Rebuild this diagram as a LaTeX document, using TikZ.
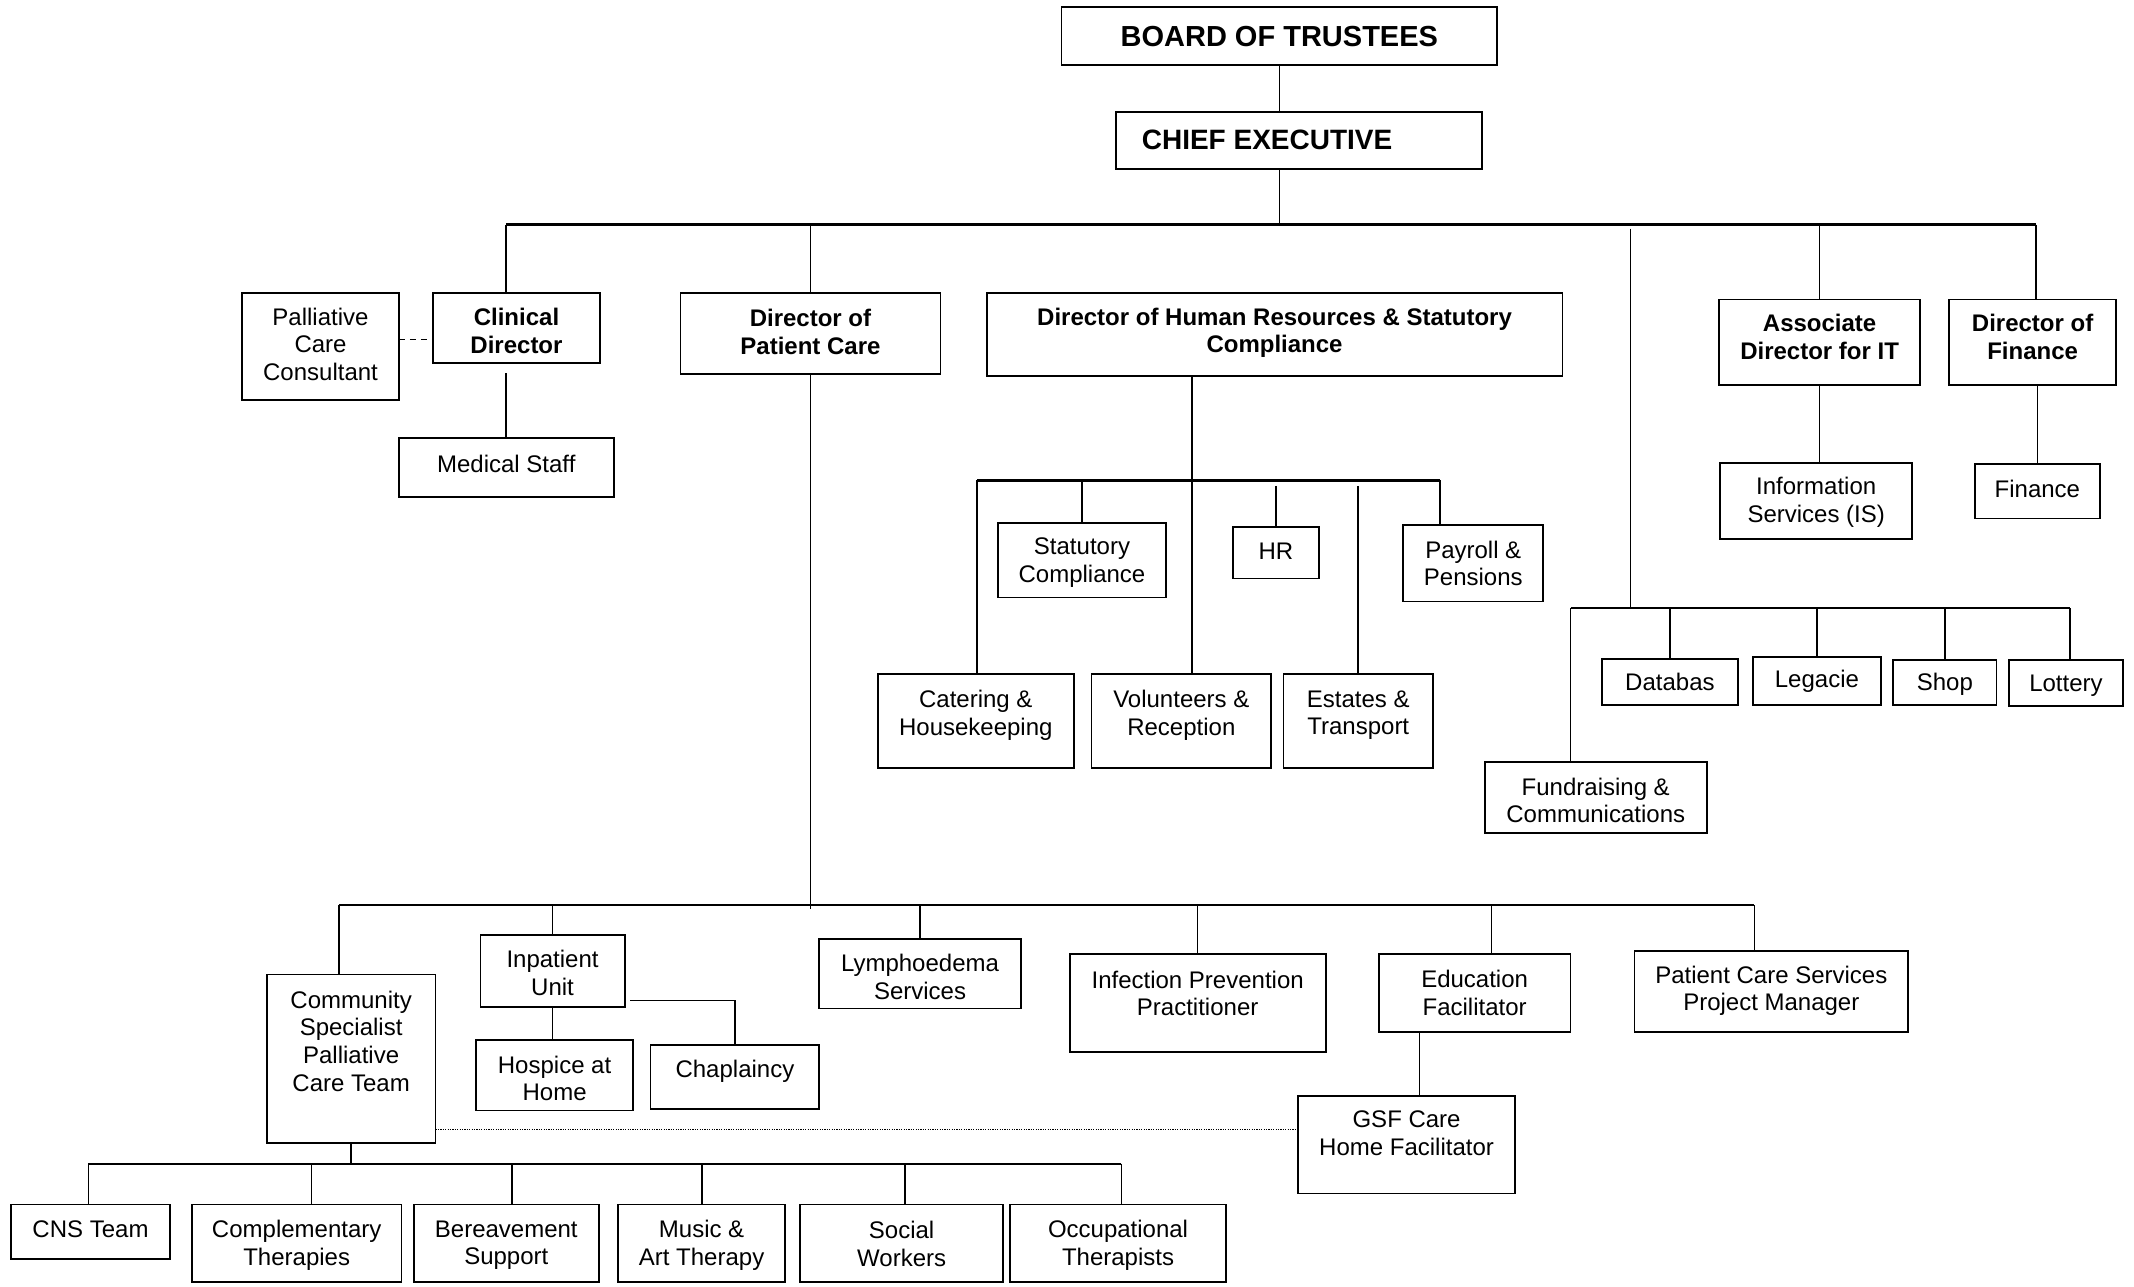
\documentclass[tikz,border=0pt]{standalone}
\usepackage{fontspec}
\setmainfont{Liberation Sans}
\usetikzlibrary{calc}
\tikzset{
  boxshape/.style={draw, line width=0.9pt, rectangle, inner sep=0pt, outer sep=0pt},
  boxtext/.style={align=center, font=\fontsize{12}{13.8}\selectfont, inner sep=0pt},
  boldtxt/.style={font=\fontsize{12}{13.8}\selectfont\bfseries},
  bigtxt/.style={font=\fontsize{14.5}{16}\selectfont\bfseries},
  conn/.style={line width=0.8pt},
  barline/.style={line width=1.1pt},
  dashlink/.style={line width=0.9pt, dash pattern=on 3pt off 2.5pt},
  dotlink/.style={line width=0.8pt, dash pattern=on 0.6pt off 0.6pt},
}
\newcommand\orgbox[8][]{%
  \node[boxshape, minimum width={(#5-#3)*0.6805pt}, minimum height={(#6-#4)*0.6805pt}] (#2) at ({(#3+#5)/2},{(#4+#6)/2}) {};
  \node[boxtext,#1] (#2-txt) at ($(#2.center)+(0,#7)$) {#8};
}
\begin{document}
\begin{tikzpicture}[x=0.6805pt,y=-0.6805pt]
\useasboundingbox (0,0) rectangle (1568,945);

% ---------- boxes ----------
\orgbox[bigtxt]{board}{780}{5}{1100}{48}{0}{BOARD OF TRUSTEES}
\orgbox[bigtxt,font=\fontsize{14}{16}\selectfont\bfseries,xshift=-16pt]{ce}{820}{82}{1089}{124}{0}{CHIEF EXECUTIVE}

\orgbox{pcc}{178}{215}{293}{294}{-1.5}{Palliative\\Care\\Consultant}
\orgbox[boldtxt]{cd}{318}{215}{441}{267}{2}{Clinical\\Director}
\orgbox{ms}{293}{322}{451}{365}{-2.5}{Medical Staff}
\orgbox[boldtxt]{dpc}{500}{215}{691}{275}{-1}{Director of\\Patient Care}
\orgbox[boldtxt]{dhr}{725}{215}{1148}{276}{-1}{Director of Human Resources \& Statutory\\Compliance}

\orgbox{sc}{733}{384}{857}{439}{2}{Statutory\\Compliance}
\orgbox{hr}{906}{387}{969}{425}{-1}{HR}
\orgbox{pp}{1031}{386}{1134}{442}{0}{Payroll \&\\Pensions}
\orgbox{ch}{645}{495}{789}{564}{-4}{Catering \&\\Housekeeping}
\orgbox{vr}{802}{495}{934}{564}{-4}{Volunteers \&\\Reception}
\orgbox{et}{943}{495}{1053}{564}{-4}{Estates \&\\Transport}

\orgbox{db}{1177}{484}{1277}{518}{0}{Databas}
\orgbox{lg}{1288}{483}{1382}{518}{0}{Legacie}
\orgbox{sh}{1391}{485}{1467}{518}{1.5}{Shop}
\orgbox{lt}{1476}{485}{1560}{519}{1.5}{Lottery}
\orgbox{fc}{1091}{560}{1254}{612}{2}{Fundraising \&\\Communications}

\orgbox[boldtxt]{adit}{1263}{220}{1411}{283}{-4}{Associate\\Director for IT}
\orgbox[boldtxt]{dof}{1432}{220}{1555}{283}{-4}{Director of\\Finance}
\orgbox{is}{1264}{340}{1405}{396}{1}{Information\\Services (IS)}
\orgbox{fin}{1451}{341}{1543}{381}{-2}{Finance}

\orgbox{cspct}{196}{716}{320}{840}{-13}{Community\\Specialist\\Palliative\\Care Team}
\orgbox{ipu}{353}{687}{459}{740}{1.5}{Inpatient\\Unit}
\orgbox{hah}{350}{764}{465}{816}{2.5}{Hospice at\\Home}
\orgbox{chap}{478}{768}{602}{815}{-4}{Chaplaincy}
\orgbox{lymph}{602}{690}{750}{741}{2.5}{Lymphoedema\\Services}
\orgbox{ipp}{786}{701}{974}{773}{-7}{Infection Prevention\\Practitioner}
\orgbox{ef}{1013}{701}{1154}{758}{0}{Education\\Facilitator}
\orgbox{gsf}{954}{805}{1113}{877}{-8.5}{GSF Care\\Home Facilitator}
\orgbox{pcs}{1201}{699}{1402}{758}{-0.5}{Patient Care Services\\Project Manager}

\orgbox{cns}{8}{885}{125}{925}{-2}{CNS Team}
\orgbox{ct}{141}{885}{295}{942}{1.5}{Complementary\\Therapies}
\orgbox{bs}{304}{885}{440}{942}{1.5}{Bereavement\\Support}
\orgbox{mat}{454}{885}{577}{942}{1.5}{Music \&\\Art Therapy}
\orgbox{sw}{588}{885}{737}{942}{0.5}{Social\\Workers}
\orgbox{ot}{742}{885}{901}{942}{1.5}{Occupational\\Therapists}

% ---------- bar coordinates ----------
\coordinate (b1l) at (372,165);
\coordinate (b1r) at (1496,165);
\coordinate (b1f) at (1198,168);
\coordinate (hbl) at (718,353);
\coordinate (hbr) at (1058,353);
\coordinate (hj) at (876,353);
\coordinate (fbl) at (1154,447);
\coordinate (fbr) at (1521,447);
\coordinate (lbl) at (249,665);
\coordinate (lbr) at (1289,665);
\coordinate (lef) at (1096,665);
\coordinate (gj) at (1043,758);
\coordinate (bbl) at (65,855);
\coordinate (bbr) at (824,855);
\coordinate (bct) at (229,855);
\coordinate (bbs) at (376,855);
\coordinate (bmat) at (516,855);
\coordinate (bsw) at (665,855);

% ---------- top ----------
\draw[conn] (board.south) -- (board.south |- ce.north);
\draw[conn] (board.south |- ce.south) -- (board.south |- b1l);
\draw[barline] (b1l) -- (b1r);
\draw[conn] (b1l) -- (b1l |- cd.north);
\draw[conn] (dpc.north |- b1l) -- (dpc.north);
\draw[conn] (b1f) -- (b1f |- fbl);
\draw[conn] (adit.north |- b1l) -- (adit.north);
\draw[conn] (b1r) -- (b1r |- dof.north);

% ---------- clinical ----------
\draw[dashlink] ($(pcc.east)+(0,-5)$) -- ($(pcc.east -| cd.west)+(0,-5)$);
\draw[conn] (ms.north) -- ($(cd.south -| ms.north)+(0,7)$);

% ---------- HR ----------
\draw[conn] (hj |- dhr.south) -- (hj |- vr.north);
\draw[barline] (hbl) -- (hbr);
\draw[conn] (hbl) -- (hbl |- ch.north);
\draw[conn] (sc.north |- hbl) -- (sc.north);
\draw[conn] ($(hr.north |- hbl)+(0,4)$) -- (hr.north);
\draw[conn] ($(et.north |- hbl)+(0,4)$) -- (et.north);
\draw[conn] (hbr) -- (hbr |- pp.north);

% ---------- fundraising ----------
\draw[barline] (fbl) -- (fbr);
\draw[conn] (fbl) -- (fbl |- fc.north);
\draw[conn] (db.north |- fbl) -- (db.north);
\draw[conn] (lg.north |- fbl) -- (lg.north);
\draw[conn] (sh.north |- fbl) -- (sh.north);
\draw[conn] (fbr) -- (fbr |- lt.north);

% ---------- IT / finance ----------
\draw[conn] (adit.south) -- (adit.south |- is.north);
\draw[conn] (fin.north) -- (fin.north |- dof.south);

% ---------- patient care ----------
\draw[conn] (dpc.south) -- ($(dpc.south |- lbl)+(0,3)$);
\draw[barline] (lbl) -- (lbr);
\draw[conn] (lbl) -- (lbl |- cspct.north);
\draw[conn] (ipu.north |- lbl) -- (ipu.north);
\draw[conn] (lymph.north |- lbl) -- (lymph.north);
\draw[conn] (ipp.north |- lbl) -- (ipp.north);
\draw[conn] (lef) -- (lef |- ef.north);
\draw[conn] (lbr) -- (lbr |- pcs.north);
\draw[conn] (ipu.south) -- (ipu.south |- hah.north);
\draw[conn] ($(ipu.south east)+(4,-5)$) -| (chap.north);
\draw[conn] (gj) -- (gj |- gsf.north);
\draw[dotlink] ($(cspct.south east)+(0,-10)$) -- ($(cspct.south east -| gsf.west)+(0,-10)$);

% ---------- community team ----------
\draw[conn] (cspct.south) -- (cspct.south |- bbl);
\draw[barline] (bbl) -- (bbr);
\draw[conn] (bbl) -- (bbl |- cns.north);
\draw[conn] (bct) -- (bct |- ct.north);
\draw[conn] (bbs) -- (bbs |- bs.north);
\draw[conn] (bmat) -- (bmat |- mat.north);
\draw[conn] (bsw) -- (bsw |- sw.north);
\draw[conn] (bbr) -- (bbr |- ot.north);
\end{tikzpicture}
\end{document}
